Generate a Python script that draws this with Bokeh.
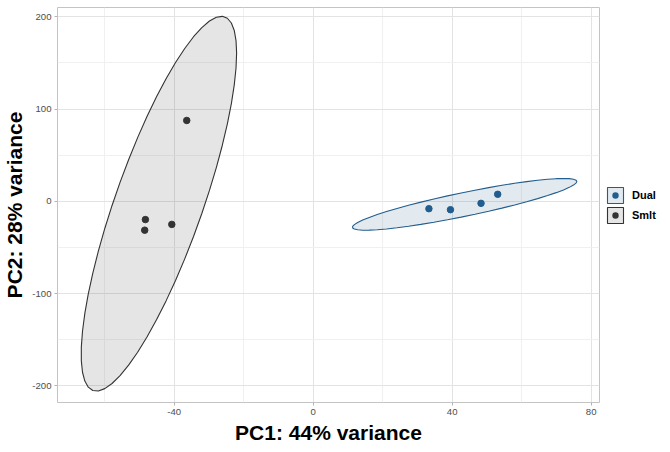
import numpy as np
from bokeh.plotting import figure
from bokeh.models import FixedTicker, Range1d, Legend, LegendItem
from bokeh.embed import file_html
from bokeh.resources import INLINE

# ---- data ----
groups = ["Dual", "Smlt"]
dual_pc1 = [33.3, 39.5, 48.3, 53.1]
dual_pc2 = [-8.0, -9.1, -2.2, 7.6]
smlt_pc1 = [-36.4, -48.3, -40.7, -48.5]
smlt_pc2 = [87.6, -19.8, -25.0, -31.3]
colors = {"Dual": "#215D8E", "Smlt": "#333333"}
x_ticks = [-40, 0, 40, 80]
x_minor = [-60, -20, 20, 60]
y_ticks = [-200, -100, 0, 100, 200]
y_minor = [-150, -50, 50, 150]
x_label = "PC1: 44% variance"
y_label = "PC2: 28% variance"

FONT = "Liberation Sans"
FILL_ALPHA = 0.13


def cov_trob(x, nu=5, maxit=25, tol=0.01):
    n, p = x.shape
    wt = np.ones(n)
    loc = x.mean(axis=0)
    w = np.sqrt(wt)
    X = x - loc
    for _ in range(maxit):
        w0 = w
        X = x - loc
        _, d, vt = np.linalg.svd(np.sqrt(wt / wt.sum())[:, None] * X, full_matrices=False)
        wX = X @ vt.T @ np.diag(1.0 / d)
        Q = (wX ** 2).sum(axis=1)
        w = (wt * (nu + p)) / (nu + Q)
        loc = (w[:, None] * x).sum(axis=0) / w.sum()
        if np.all(np.abs(w - w0) < tol):
            break
    sw = np.sqrt(w)[:, None] * X
    cov = sw.T @ sw / wt.sum()
    return loc, cov


def t_ellipse(xs, ys, level=0.95, segments=51):
    pts = np.column_stack([xs, ys]).astype(float)
    n = len(pts)
    center, shape = cov_trob(pts)
    dfd = n - 1
    qf = dfd / 2.0 * ((1 - level) ** (-2.0 / dfd) - 1)  # F quantile for dfn = 2
    radius = np.sqrt(2 * qf)
    ang = np.arange(segments + 1) * 2 * np.pi / segments
    circle = np.column_stack([np.cos(ang), np.sin(ang)])
    U = np.linalg.cholesky(shape).T
    ell = center + radius * (circle @ U)
    return ell[:, 0], ell[:, 1]


def blend(hex_color, alpha):
    rgb = [int(hex_color[i:i + 2], 16) for i in (1, 3, 5)]
    mixed = [round(255 - alpha * (255 - c)) for c in rgb]
    return "#%02x%02x%02x" % tuple(mixed)


p = figure(frame_width=542, frame_height=395, output_backend="svg", toolbar_location=None,
           x_range=Range1d(-73.6, 82.4), y_range=Range1d(-218, 210),
           min_border_left=49, min_border_right=0, min_border_top=7, min_border_bottom=40)
p.background_fill_color = "white"
p.border_fill_color = "white"
p.outline_line_color = "#C4C4C4"
p.outline_line_width = 1

p.xaxis.ticker = FixedTicker(ticks=x_ticks, minor_ticks=x_minor)
p.yaxis.ticker = FixedTicker(ticks=y_ticks, minor_ticks=y_minor)
p.xaxis.major_label_overrides = {t: str(t) for t in x_ticks}
p.yaxis.major_label_overrides = {t: str(t) for t in y_ticks}
for ax in (p.xaxis, p.yaxis):
    ax.axis_line_color = None
    ax.minor_tick_line_color = None
    ax.major_tick_line_color = "#B3B3B3"
    ax.major_tick_in = 0
    ax.major_tick_out = 3
    ax.major_label_text_font = FONT
    ax.major_label_text_font_size = "9.6px"
    ax.major_label_text_color = "#4D4D4D"
    ax.major_label_standoff = 2
    ax.axis_label_text_font = FONT
    ax.axis_label_text_font_size = "21px"
    ax.axis_label_text_font_style = "bold"
    ax.axis_label_text_color = "black"
p.xaxis.axis_label = x_label
p.yaxis.axis_label = y_label
p.xaxis.axis_label_standoff = 3
p.yaxis.axis_label_standoff = 3

p.grid.grid_line_color = "#E3E3E3"
p.grid.grid_line_width = 1
p.grid.minor_grid_line_color = "#F0F0F0"
p.grid.minor_grid_line_width = 1

items = []
for g, xs, ys in (("Dual", dual_pc1, dual_pc2), ("Smlt", smlt_pc1, smlt_pc2)):
    ex, ey = t_ellipse(xs, ys)
    patch = p.patch(ex, ey, fill_color=colors[g], fill_alpha=FILL_ALPHA,
                    line_color=colors[g], line_width=1.1)
    # key dot for the legend (tiny, hidden beneath the real points)
    key = p.scatter(xs, ys, size=1, fill_color=colors[g],
                    line_color=blend(colors[g], FILL_ALPHA), line_width=1.6)
    p.scatter(xs, ys, size=6.5, color=colors[g])
    items.append(LegendItem(label=g, renderers=[patch, key]))

legend = Legend(items=items, location="center_left", orientation="vertical")
legend.glyph_width = 20
legend.glyph_height = 20
legend.spacing = 0
legend.padding = 0
legend.margin = 6
legend.label_standoff = 7
legend.label_text_font = FONT
legend.label_text_font_size = "11px"
legend.label_text_font_style = "bold"
legend.label_text_color = "black"
legend.border_line_color = None
legend.background_fill_alpha = 0
p.add_layout(legend, "right")

open("out.html", "w").write(file_html(p, INLINE))
